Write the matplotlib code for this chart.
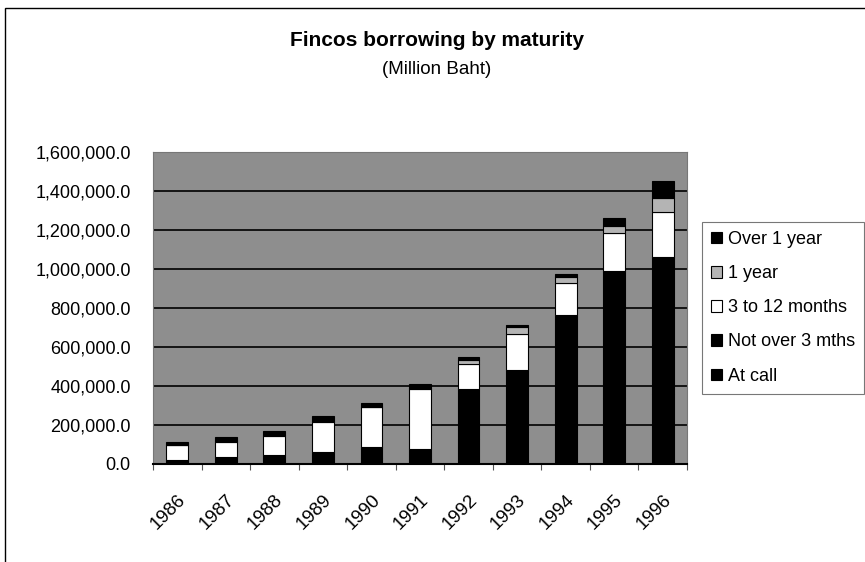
import numpy as np
import matplotlib.pyplot as plt
from matplotlib.patches import Rectangle
from matplotlib.ticker import FuncFormatter, FixedLocator

plt.rcParams['font.family'] = ['Liberation Sans', 'DejaVu Sans']

years = ['1986', '1987', '1988', '1989', '1990', '1991', '1992', '1993', '1994', '1995', '1996']
# Million Baht
at_call = [8000, 14000, 18000, 22000, 30000, 28000, 130000, 165000, 260000, 340000, 360000]
not_over_3 = [12000, 23000, 30000, 40000, 58000, 51000, 253000, 317000, 502000, 650000, 703000]
three_to_12 = [77000, 78000, 97000, 155000, 203000, 305000, 130000, 185000, 165000, 195000, 227000]
one_year = [2000, 2000, 3000, 3000, 3000, 4000, 22000, 34000, 31000, 34000, 74000]
over_1_year = [15000, 20000, 20000, 25000, 17000, 22000, 15000, 14000, 14000, 43000, 85000]

series = [
    ('At call', at_call, 'black'),
    ('Not over 3 mths', not_over_3, 'black'),
    ('3 to 12 months', three_to_12, 'white'),
    ('1 year', one_year, '#b4b4b4'),
    ('Over 1 year', over_1_year, 'black'),
]

fig = plt.figure(figsize=(8.65, 5.62), dpi=100)
ax = fig.add_axes([153 / 865, 1 - 464 / 562, 534 / 865, 312 / 562])
ax.set_facecolor('#8e8e8e')

x = np.arange(len(years))
bottom = np.zeros(len(years))
handles = []
for name, vals, col in series:
    b = ax.bar(x, vals, bottom=bottom, width=0.45, color=col, edgecolor='black',
               linewidth=0.8, label=name, zorder=3)
    handles.append(b)
    bottom += np.array(vals)

ax.set_xlim(-0.5, len(years) - 0.5)
ax.set_ylim(0, 1600000)
ax.set_yticks(np.arange(0, 1600001, 200000))
ax.yaxis.set_major_formatter(FuncFormatter(lambda v, p: f'{v:,.1f}'))
ax.grid(axis='y', color='black', linewidth=1.2, zorder=1)
ax.tick_params(axis='y', length=0, labelsize=13, pad=16)

ax.set_xticks(x)
ax.set_xticklabels(years, rotation=45, ha='right', rotation_mode='anchor', fontsize=13.5)
ax.tick_params(axis='x', which='major', length=0, pad=20)
ax.xaxis.set_minor_locator(FixedLocator(np.arange(-0.5, len(years), 1.0)))
ax.tick_params(axis='x', which='minor', length=4, width=0.8, color='#555555')

for s in ['top', 'right', 'left']:
    ax.spines[s].set_color('#777777')
    ax.spines[s].set_linewidth(0.8)
ax.spines['bottom'].set_color('black')
ax.spines['bottom'].set_linewidth(1.5)

fig.text(437 / 865, 1 - 40 / 562, 'Fincos borrowing by maturity', ha='center', va='center',
         fontsize=15, fontweight='bold')
fig.text(437 / 865, 1 - 70 / 562, '(Million Baht)', ha='center', va='center', fontsize=13.5)

leg = fig.legend(handles[::-1], [s[0] for s in series][::-1],
                 loc='upper left', bbox_to_anchor=(702 / 865, 1 - 222 / 562),
                 fontsize=13, frameon=True, fancybox=False, edgecolor='#555555',
                 handlelength=0.6, handleheight=0.6, handletextpad=0.35,
                 labelspacing=0.95, borderpad=0.5, borderaxespad=0)
leg.get_frame().set_linewidth(0.8)

fig.patches.append(Rectangle((5 / 865, -0.05), 1.0, 1 - 8 / 562 + 0.05, transform=fig.transFigure,
                             fill=False, edgecolor='black', linewidth=1.0))

fig.savefig('out.png', dpi=100)
